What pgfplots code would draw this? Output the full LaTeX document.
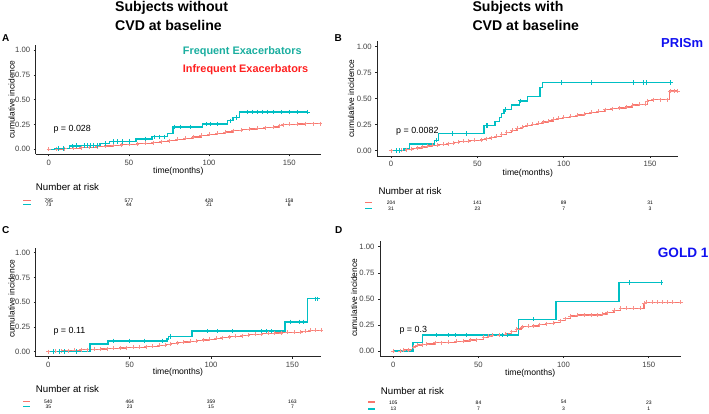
\documentclass[border=0pt]{standalone}
\usepackage{pgfplots}
\pgfplotsset{compat=1.18}
\usepackage{fontspec}
\setmainfont{Liberation Sans}
\definecolor{kmred}{HTML}{F8766D}
\definecolor{kmteal}{HTML}{00BFC4}
\definecolor{legteal}{HTML}{1AAE9F}
\definecolor{legred}{HTML}{FF1F1F}
\definecolor{labblue}{HTML}{1010F0}
\pgfplotsset{km/.style={scale only axis, axis lines=left,
  axis line style={-, black!85, line width=0.6pt},
  tick align=outside, major tick length=2pt,
  tick style={black!85, line width=0.5pt},
  ytick={0,0.25,0.5,0.75,1}, yticklabels={0.00,0.25,0.50,0.75,1.00},
  xtick={0,50,100,150}, xticklabels={0,50,100,150},
  ymin=-0.05, ymax=1.05,
  tick label style={font=\fontsize{7.7}{8}\selectfont, text=black!75},
  clip=false, anchor=south west}}
\newcommand{\rn}[1]{{\fontsize{5}{5}\selectfont #1}}
\begin{document}
\begin{tikzpicture}[x=1pt,y=1pt]
\path[use as bounding box] (0pt,0pt) rectangle (709pt,414pt);
% ---------------- Panel A
\begin{axis}[km, at={(35.7pt,259.7pt)}, width=285.7pt, height=109.3pt, xmin=-8.1, xmax=170]
\addplot[const plot, kmred, line width=1.2pt, mark=+, mark size=2pt, mark options={solid, line width=0.5pt, kmred!80}] coordinates {(0,0)(5,0.004)(10,0.008)(15,0.012)(20,0.017)(25,0.022)(30,0.028)(35,0.034)(40,0.04)(45,0.045)(50,0.05)(55,0.055)(60,0.062)(65,0.068)(70,0.077)(75,0.088)(80,0.1)(85,0.112)(90,0.125)(95,0.14)(100,0.15)(105,0.162)(110,0.175)(115,0.188)(120,0.197)(125,0.205)(130,0.212)(135,0.218)(140,0.225)(144,0.238)(146,0.248)(150,0.252)(155,0.255)(160,0.258)(165,0.258)(169,0.258)};
\addplot[const plot, kmteal, line width=1.5pt, mark=none] coordinates {(0,0)(4,0.01)(13,0.033)(20,0.04)(32,0.057)(38,0.078)(54.5,0.105)(64.5,0.127)(74,0.16)(77.5,0.226)(96,0.255)(111.5,0.288)(115,0.322)(119,0.376)(161.5,0.376)};
\addplot[only marks, kmteal, mark=+, mark size=2.2pt, mark options={solid, line width=0.6pt}] coordinates {(6,0.01)(9,0.01)(15,0.033)(17,0.04)(22,0.04)(24,0.04)(26,0.04)(28,0.04)(30,0.04)(35,0.057)(40,0.078)(43,0.078)(46,0.078)(50,0.078)(60,0.105)(66,0.127)(69,0.127)(72,0.127)(78,0.226)(82,0.226)(88,0.226)(98,0.255)(101,0.255)(105,0.255)(113,0.288)(117,0.322)(124,0.376)(127,0.376)(130,0.376)(133,0.376)(136,0.376)(140,0.376)(145,0.376)(150,0.376)(155,0.376)(161.5,0.376)};
\end{axis}
% ---------------- Panel B
\begin{axis}[km, at={(377.3pt,258.1pt)}, width=301pt, height=114.4pt, xmin=-7.93, xmax=166.4]
\addplot[const plot, kmred, line width=1.2pt, mark=+, mark size=2pt, mark options={solid, line width=0.5pt, kmred!80}] coordinates {(0,0)(3,0)(6,0.005)(9,0.01)(12,0.018)(15,0.025)(18,0.035)(21,0.045)(24,0.052)(27,0.056)(30,0.06)(33,0.068)(36,0.075)(39,0.085)(42,0.09)(45,0.095)(48,0.1)(52,0.105)(55,0.115)(58,0.125)(61,0.14)(64,0.158)(67,0.175)(70,0.195)(73,0.215)(76,0.23)(79,0.245)(82,0.255)(85,0.265)(88,0.275)(91,0.285)(94,0.3)(97,0.312)(100,0.32)(104,0.33)(108,0.343)(112,0.355)(116,0.37)(120,0.378)(124,0.395)(128,0.405)(132,0.41)(136,0.42)(140,0.44)(144,0.445)(147,0.447)(148.5,0.48)(152,0.49)(156,0.49)(160,0.49)(161.5,0.575)(164,0.575)(166,0.575)};
\addplot[const plot, kmteal, line width=1.5pt, mark=none] coordinates {(0,0)(7.5,0.02)(10.8,0.064)(25.3,0.1)(27.5,0.167)(54,0.244)(60.2,0.279)(62.7,0.317)(64.1,0.36)(65.4,0.398)(69.9,0.437)(74.3,0.48)(79,0.52)(86.3,0.606)(87.8,0.654)(162,0.654)};
\addplot[only marks, kmteal, mark=+, mark size=2.2pt, mark options={solid, line width=0.6pt}] coordinates {(3,0)(5,0)(26,0.1)(35.5,0.167)(43.8,0.167)(55,0.244)(56,0.244)(66,0.398)(75,0.48)(98.8,0.654)(116.2,0.654)(140.3,0.654)(146,0.654)(148,0.654)(162,0.654)};
\end{axis}
% ---------------- Panel C
\begin{axis}[km, at={(35.7pt,57.35pt)}, width=285.3pt, height=108.9pt, xmin=-7.74, xmax=167.6]
\addplot[const plot, kmred, line width=1.2pt, mark=+, mark size=2pt, mark options={solid, line width=0.5pt, kmred!80}] coordinates {(0,0)(4,0.003)(8,0.007)(12,0.012)(16,0.016)(20,0.02)(24,0.022)(28,0.025)(32,0.027)(36,0.03)(40,0.034)(44,0.037)(48,0.04)(52,0.043)(56,0.046)(60,0.05)(64,0.056)(68,0.063)(72,0.07)(75,0.08)(79,0.09)(83,0.097)(87,0.103)(91,0.11)(95,0.118)(99,0.126)(103,0.134)(107,0.142)(111,0.15)(115,0.157)(119,0.163)(123,0.17)(127,0.175)(131,0.18)(135,0.184)(139,0.188)(143,0.191)(147,0.194)(151,0.197)(155,0.2)(158,0.206)(161,0.215)(164,0.215)(167.6,0.215)};
\addplot[const plot, kmteal, line width=1.5pt, mark=none] coordinates {(0,0)(25.5,0.078)(36.7,0.11)(73,0.13)(74,0.155)(88.3,0.207)(145.6,0.302)(159.3,0.535)(165.6,0.535)};
\addplot[only marks, kmteal, mark=+, mark size=2.2pt, mark options={solid, line width=0.6pt}] coordinates {(3,0)(7,0)(10,0)(17,0)(40,0.11)(50,0.11)(59,0.11)(70,0.11)(75,0.155)(98,0.207)(104,0.207)(113,0.207)(130.7,0.207)(133.8,0.207)(136.9,0.207)(149,0.302)(154,0.302)(157,0.302)(164,0.535)(165.6,0.535)};
\end{axis}
% ---------------- Panel D
\begin{axis}[km, at={(380pt,57.8pt)}, width=300.7pt, height=114.7pt, xmin=-7.81, xmax=168.8]
\addplot[const plot, kmred, line width=1.2pt, mark=+, mark size=2pt, mark options={solid, line width=0.5pt, kmred!80}] coordinates {(0,0)(4,0)(6,0.01)(9,0.01)(12,0.04)(14,0.058)(17,0.06)(19.6,0.067)(24.5,0.08)(28,0.08)(32,0.082)(37,0.092)(41,0.095)(45,0.106)(49,0.11)(53,0.13)(56,0.14)(58,0.15)(62,0.155)(66,0.165)(69.5,0.185)(72.5,0.21)(75.5,0.232)(79,0.235)(82,0.24)(86,0.252)(90,0.262)(94,0.27)(98,0.29)(101,0.31)(104,0.335)(108,0.345)(112,0.345)(116,0.345)(120,0.345)(123,0.355)(125.7,0.368)(129.6,0.392)(133.5,0.408)(137,0.408)(141,0.408)(145,0.408)(147.2,0.456)(148.7,0.468)(152,0.468)(155,0.468)(158,0.468)(161,0.468)(164,0.468)(168.8,0.468)};
\addplot[const plot, kmteal, line width=1.5pt, mark=none] coordinates {(0,0)(11.7,0.08)(17.2,0.153)(73.4,0.304)(95.5,0.473)(132.7,0.655)(157.2,0.655)};
\addplot[only marks, kmteal, mark=+, mark size=2.2pt, mark options={solid, line width=0.6pt}] coordinates {(25.4,0.153)(32.3,0.153)(36.6,0.153)(42.7,0.153)(64.2,0.153)(67,0.153)(82.2,0.304)(138.6,0.655)(157.2,0.655)};
\end{axis}
% ---------------- Titles and labels
\begin{scope}[every node/.style={inner sep=0pt}]
\node[anchor=west, font=\fontsize{14.1}{15}\selectfont\bfseries] at (115,405.7) {Subjects without};
\node[anchor=west, font=\fontsize{14.1}{15}\selectfont\bfseries] at (115,389) {CVD at baseline};
\node[anchor=west, font=\fontsize{14.1}{15}\selectfont\bfseries] at (472.3,405.7) {Subjects with};
\node[anchor=west, font=\fontsize{14.1}{15}\selectfont\bfseries] at (472.3,389) {CVD at baseline};
\node[anchor=west, font=\fontsize{10}{11}\selectfont\bfseries] at (2,376) {A};
\node[anchor=west, font=\fontsize{10}{11}\selectfont\bfseries] at (334.3,376) {B};
\node[anchor=west, font=\fontsize{10}{11}\selectfont\bfseries] at (2,184) {C};
\node[anchor=west, font=\fontsize{10}{11}\selectfont\bfseries] at (335,184) {D};
\node[anchor=west, font=\fontsize{10.9}{12}\selectfont\bfseries, text=legteal] at (182.7,362.3) {Frequent Exacerbators};
\node[anchor=west, font=\fontsize{10.9}{12}\selectfont\bfseries, text=legred] at (182.7,344) {Infrequent Exacerbators};
\node[anchor=west, font=\fontsize{13}{14}\selectfont\bfseries, text=labblue] at (661,371.3) {PRISm};
\node[anchor=west, font=\fontsize{13.6}{14}\selectfont\bfseries, text=labblue] at (657.7,160.7) {GOLD 1};
\node[anchor=west, font=\fontsize{8.9}{10}\selectfont] at (53.3,284.7) {p = 0.028};
\node[anchor=west, font=\fontsize{8.9}{10}\selectfont] at (396,283) {p = 0.0082};
\node[anchor=west, font=\fontsize{8.9}{10}\selectfont] at (53.3,82.3) {p = 0.11};
\node[anchor=west, font=\fontsize{8.9}{10}\selectfont] at (399.3,83.3) {p = 0.3};
\node[rotate=90, font=\fontsize{8.4}{9}\selectfont] at (11.5,314.3) {cumulative incidence};
\node[rotate=90, font=\fontsize{8.4}{9}\selectfont] at (351,315.3) {cumulative incidence};
\node[rotate=90, font=\fontsize{8.4}{9}\selectfont] at (11.7,115) {cumulative incidence};
\node[rotate=90, font=\fontsize{8.4}{9}\selectfont] at (354,116) {cumulative incidence};
\node[font=\fontsize{8.6}{9}\selectfont] at (178.3,243) {time(months)};
\node[font=\fontsize{8.6}{9}\selectfont] at (527.8,240.7) {time(months)};
\node[font=\fontsize{8.6}{9}\selectfont] at (178,41.3) {time(months)};
\node[font=\fontsize{8.6}{9}\selectfont] at (530.2,40.7) {time(months)};
\node[anchor=west, font=\fontsize{9.7}{10}\selectfont] at (35.7,227) {Number at risk};
\node[anchor=west, font=\fontsize{9.7}{10}\selectfont] at (378.3,223) {Number at risk};
\node[anchor=west, font=\fontsize{9.7}{10}\selectfont] at (35.7,25) {Number at risk};
\node[anchor=west, font=\fontsize{9.7}{10}\selectfont] at (380.7,23.3) {Number at risk};
% risk numbers A
\node at (48.7,213.5) {\rn{795}}; \node at (128.9,213.5) {\rn{577}}; \node at (209.1,213.5) {\rn{428}}; \node at (289.3,213.5) {\rn{158}};
\node at (48.7,209.5) {\rn{73}}; \node at (128.9,209.5) {\rn{44}}; \node at (209.1,209.5) {\rn{21}}; \node at (289.3,209.5) {\rn{6}};
% risk numbers B
\node at (391,211.5) {\rn{204}}; \node at (477.4,211.5) {\rn{141}}; \node at (563.7,211.5) {\rn{89}}; \node at (650.1,211.5) {\rn{31}};
\node at (391,205.3) {\rn{31}}; \node at (477.4,205.3) {\rn{23}}; \node at (563.7,205.3) {\rn{7}}; \node at (650.1,205.3) {\rn{3}};
% risk numbers C
\node at (48.3,12.3) {\rn{540}}; \node at (129.7,12.3) {\rn{464}}; \node at (211,12.3) {\rn{359}}; \node at (292.4,12.3) {\rn{163}};
\node at (48.3,7.3) {\rn{35}}; \node at (129.7,7.3) {\rn{23}}; \node at (211,7.3) {\rn{15}}; \node at (292.4,7.3) {\rn{7}};
% risk numbers D
\node at (393.3,11.7) {\rn{105}}; \node at (478.5,11.7) {\rn{84}}; \node at (563.6,11.7) {\rn{54}}; \node at (648.8,11.7) {\rn{23}};
\node at (393.3,5) {\rn{13}}; \node at (478.5,5) {\rn{7}}; \node at (563.6,5) {\rn{3}}; \node at (648.8,5) {\rn{1}};
\end{scope}
% risk table strata keys
\draw[kmred, line width=1.6pt] (23.3,213.5) -- (30.7,213.5);
\draw[kmteal, line width=1.6pt] (23.3,209.5) -- (30.7,209.5);
\draw[kmred, line width=1.6pt] (365,211.5) -- (372.3,211.5);
\draw[kmteal, line width=1.6pt] (365,205.3) -- (372.3,205.3);
\draw[kmred, line width=1.6pt] (23,12.3) -- (30,12.3);
\draw[kmteal, line width=1.6pt] (23,7.3) -- (30,7.3);
\draw[kmred, line width=1.6pt] (368,11.7) -- (375,11.7);
\draw[kmteal, line width=1.6pt] (368,5) -- (375,5);
\end{tikzpicture}
\end{document}
